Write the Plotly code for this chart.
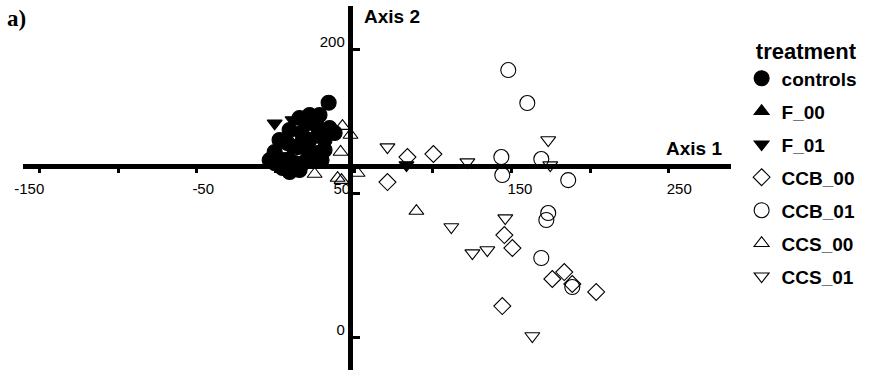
import plotly.graph_objects as go

# Ordination scores (Axis 1, Axis 2) per treatment group
controls_x = [33.7, -0.6, 4.4, 12.1, 7.6, 16.5, 22.9, 26.7, 34.3, 31.1, 26.7, 20.3, 18.4, 29.2, -0.6, 14.0, 37.5, 20.3,
              27.9, 15.2, 8.9, 2.5, -3.8, 5.7, 21.6, 24.8, 15.2, 8.9, 31.1, 21.6]
controls_y = [162.7, 128.5, 117.4, 120.8, 134.7, 141.7, 150.7, 145.8, 145.1, 136.8, 127.8, 129.9, 121.5, 122.9, 120.8, 131.9, 141.7, 148.6,
              154.2, 152.1, 143.8, 136.8, 122.9, 122.9, 136.8, 122.9, 116.0, 114.6, 129.9, 154.2]

f00_x = [15.2, 24.8, 8.9]
f00_y = [136.8, 140.3, 126.4]

f01_x = [-0.6, 83.2, 10.8]
f01_y = [148.4, 119.4, 150.7]

ccb00_x = [83.8, 100.3, 71.1, 145.4, 150.5, 183.5, 175.9, 188.6, 203.8, 144.1]
ccb00_y = [125.0, 127.1, 107.6, 70.8, 61.8, 45.1, 40.3, 36.8, 31.3, 21.5]

ccb01_x = [147.9, 160.0, 143.5, 168.9, 144.1, 186.0, 173.3, 172.1, 168.9, 188.6]
ccb01_y = [185.4, 162.5, 125.0, 123.6, 112.5, 109.0, 86.1, 81.3, 54.9, 34.7]

ccs00_x = [42.5, 47.6, 41.3, 24.8, 39.4, 41.9, 52.1, 89.5]
ccs00_y = [146.5, 140.3, 128.5, 113.2, 110.4, 109.0, 113.9, 87.5]

ccs01_x = [71.1, 121.9, 173.3, 174.6, 111.7, 146.0, 125.1, 134.6, 163.2]
ccs01_y = [131.9, 121.5, 136.8, 119.4, 76.4, 82.6, 58.3, 60.4, 0.7]

NB = "\u00a0"
x_tick_vals = [-150, -100, -50, 0, 50, 100, 150, 200, 250]
x_tick_text = ["-150" + NB * 5, "", NB * 3 + "-50", "", "50" + NB * 6, "", NB * 4 + "150", "", NB * 5 + "250"]
y_tick_vals = [0, 100, 200]
y_tick_text = ["0", "", "200"]

X_RANGE = [-160.6, 289.5]
Y_RANGE = [-22.9, 229.9]
X_CROSS = 47.0   # where the vertical axis sits on Axis 1
Y_CROSS = 119.0  # where the horizontal axis sits on Axis 2

groups = [
    ("controls", controls_x, controls_y, "circle", 15),
    ("F_00", f00_x, f00_y, "triangle-up", 13),
    ("F_01", f01_x, f01_y, "triangle-down", 13),
    ("CCB_00", ccb00_x, ccb00_y, "diamond-open", 13),
    ("CCB_01", ccb01_x, ccb01_y, "circle-open", 15),
    ("CCS_00", ccs00_x, ccs00_y, "triangle-up-open", 13),
    ("CCS_01", ccs01_x, ccs01_y, "triangle-down-open", 13),
]

fig = go.Figure()
for name, xs, ys, sym, size in groups:
    fig.add_trace(go.Scatter(
        x=xs, y=ys, mode="markers", name="<b>" + name + "</b>", legendgroup=name,
        marker=dict(symbol=sym, size=size, color="black",
                    line=dict(color="black", width=1.1)),
    ))

font = "Liberation Sans, Arial, Helvetica, sans-serif"

fig.update_layout(
    width=869, height=373,
    margin=dict(l=23, r=138, t=6, b=3, autoexpand=False),
    paper_bgcolor="white", plot_bgcolor="white",
    font=dict(family=font, color="black", size=15),
    showlegend=True,
    legend=dict(
        title=dict(text=NB * 2 + "<b>treatment</b>", font=dict(size=22, family=font)),
        font=dict(size=19, family=font, color="black"),
        x=1.015, xanchor="left", y=0.932, yanchor="top",
        tracegroupgap=5.3, itemwidth=30,
        bgcolor="rgba(0,0,0,0)",
    ),
    xaxis=dict(
        range=X_RANGE, anchor="free", position=(Y_CROSS - Y_RANGE[0]) / (Y_RANGE[1] - Y_RANGE[0]),
        showgrid=False, zeroline=False, showline=True, linecolor="black", linewidth=4.5,
        ticks="outside", ticklen=5, tickwidth=3, tickcolor="black",
        tickvals=x_tick_vals, ticktext=x_tick_text,
        tickfont=dict(size=15, family=font), ticklabelstandoff=3,
    ),
    yaxis=dict(
        range=Y_RANGE, anchor="free", position=(X_CROSS - X_RANGE[0]) / (X_RANGE[1] - X_RANGE[0]),
        showgrid=False, zeroline=False, showline=True, linecolor="black", linewidth=4.5,
        ticks="inside", ticklen=8, tickwidth=3, tickcolor="black",
        tickvals=y_tick_vals, ticktext=y_tick_text,
        tickfont=dict(size=15, family=font), ticklabelshift=-7,
    ),
    annotations=[
        dict(text="<b>Axis 1</b>", x=1, y=Y_CROSS, xref="paper", yref="y",
             xanchor="right", yanchor="bottom", xshift=-7, yshift=5, showarrow=False,
             font=dict(size=19, family=font)),
        dict(text="<b>Axis 2</b>", x=X_CROSS, y=Y_RANGE[1], xref="x", yref="y",
             xanchor="left", yanchor="top", xshift=12, yshift=2, showarrow=False,
             font=dict(size=19, family=font)),
        dict(text="<b>a)</b>", x=0, y=1, xref="paper", yref="paper",
             xanchor="left", yanchor="top", xshift=-18, yshift=2, showarrow=False,
             font=dict(size=23, family="Liberation Serif, Times New Roman, serif")),
    ],
)

fig.write_html("out.html")
